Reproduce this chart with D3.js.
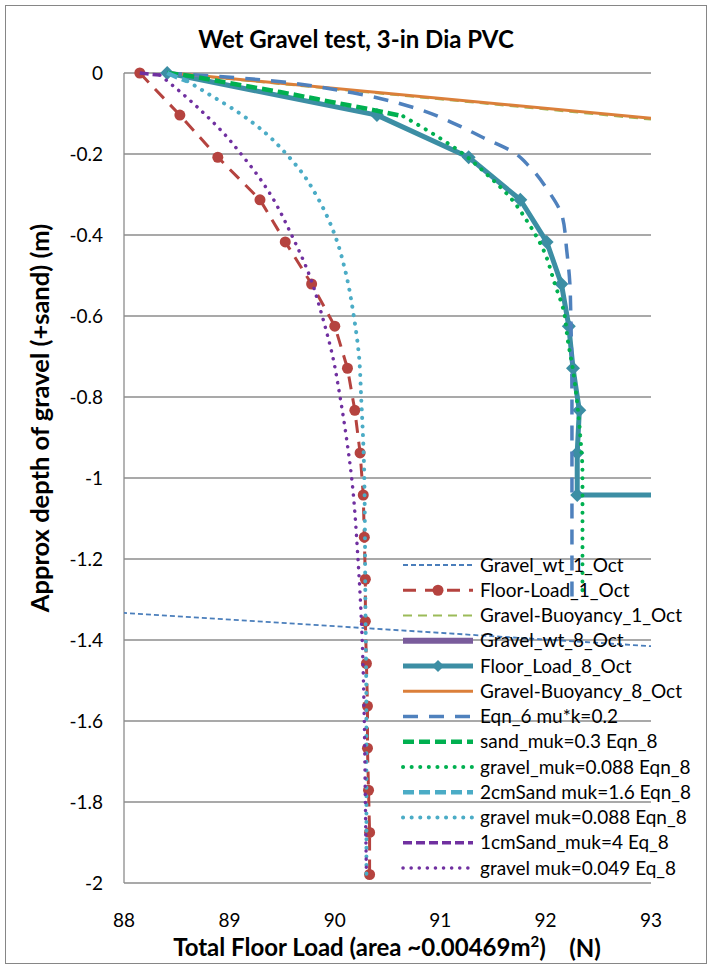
<!DOCTYPE html>
<html>
<head>
<meta charset="utf-8">
<script src="https://cdn.jsdelivr.net/npm/d3@7"></script>
<style>
  body { margin: 0; background: #fff; }
  text { font-family: Lato, "Open Sans", sans-serif; fill: #000; }
</style>
</head>
<body>
<div id="chart-area"></div>
<script>
// Wet gravel test - depth vs floor load

const WIDTH = 712
const HEIGHT = 969
const PLOT = { LEFT: 124, RIGHT: 651, TOP: 73, BOTTOM: 883 }

// tick labels
const xTicks = [88, 89, 90, 91, 92, 93]
const yTicks = [0, -0.2, -0.4, -0.6, -0.8, -1, -1.2, -1.4, -1.6, -1.8, -2]

// measured series (depth in m, load in N)
const depths = [0, -0.104, -0.208, -0.313, -0.417, -0.521, -0.625, -0.729, -0.833, -0.938,
    -1.042, -1.146, -1.25, -1.354, -1.458, -1.563, -1.667, -1.771, -1.875, -1.979]
const floorLoad1 = [88.15, 88.53, 88.89, 89.29, 89.53, 89.78, 90.0, 90.12, 90.19, 90.24,
    90.27, 90.28, 90.29, 90.29, 90.30, 90.31, 90.31, 90.32, 90.33, 90.33]
const floorLoad8 = [88.41, 90.40, 91.27, 91.76, 92.01, 92.15, 92.22, 92.26, 92.32, 92.30, 92.30, 93.0]
const floorDepth8 = [0, -0.104, -0.208, -0.313, -0.417, -0.521, -0.625, -0.729, -0.833, -0.938, -1.042, -1.042]

const gravelWt1 = [[6.7, 0], [100, -1.53]]
const gravelWt8 = []
const buoyancy1 = [[88.40, 0], [93, -0.115]]
const buoyancy8 = [[88.45, 0], [93, -0.112]]

// model curves [load, depth]
const eqn6 = [[88.41, 0], [89.22, -0.015], [90.17, -0.049], [90.73, -0.084], [91.16, -0.128],
    [91.41, -0.16], [91.69, -0.195], [91.85, -0.232], [92.02, -0.289], [92.16, -0.356],
    [92.20, -0.437], [92.23, -0.519], [92.24, -0.61], [92.25, -0.807], [92.25, -1.3]]
const sandMuk03 = [[88.41, 0], [88.56, -0.005], [89.0, -0.025], [89.48, -0.047], [90.02, -0.074],
    [90.36, -0.091], [90.65, -0.107]]
const gravelMuk088 = [[90.65, -0.107], [90.98, -0.158], [91.22, -0.2], [91.45, -0.252], [91.66, -0.306],
    [91.83, -0.368], [91.98, -0.437], [92.09, -0.523], [92.17, -0.585], [92.21, -0.659],
    [92.26, -0.733], [92.30, -0.815], [92.33, -0.899], [92.35, -0.988], [92.35, -1.079], [92.35, -1.281]]
const sand2cm = [[88.41, 0], [88.5, -0.01], [88.6, -0.02]]
const gravelMuk088b = [[88.6, -0.02], [88.79, -0.05], [89.10, -0.1], [89.35, -0.15], [89.54, -0.2],
    [89.70, -0.25], [89.82, -0.3], [89.92, -0.35], [90.0, -0.4], [90.11, -0.5], [90.18, -0.6],
    [90.23, -0.7], [90.25, -0.8], [90.28, -1.0], [90.29, -1.3], [90.30, -1.6], [90.30, -1.979]]
const sand1cm = [[88.15, 0], [88.25, -0.003], [88.34, -0.005]]
const gravelMuk049 = [[88.34, -0.005], [88.55, -0.05], [88.76, -0.1], [88.95, -0.15], [89.11, -0.2],
    [89.26, -0.25], [89.39, -0.3], [89.59, -0.4], [89.76, -0.5], [89.88, -0.6], [89.98, -0.7],
    [90.05, -0.8], [90.11, -0.9], [90.16, -1.0], [90.22, -1.2], [90.26, -1.4], [90.28, -1.6],
    [90.29, -1.8], [90.30, -1.979]]

const series = [
    { name: "Gravel_wt_1_Oct", data: gravelWt1, color: "#4A7EBB", width: 1.8, dash: "5,3" },
    { name: "Floor-Load_1_Oct", data: d3.zip(floorLoad1, depths), color: "#B5433F", width: 3, dash: "13,9", marker: "circle" },
    { name: "Gravel-Buoyancy_1_Oct", data: buoyancy1, color: "#9BBB59", width: 2, dash: "9,6" },
    { name: "Gravel_wt_8_Oct", data: gravelWt8, color: "#7A5C9C", width: 6 },
    { name: "Floor_Load_8_Oct", data: d3.zip(floorLoad8, floorDepth8), color: "#3C8EA4", width: 5, marker: "diamond" },
    { name: "Gravel-Buoyancy_8_Oct", data: buoyancy8, color: "#DB7F3A", width: 3 },
    { name: "Eqn_6 mu*k=0.2", data: eqn6, color: "#4F81BD", width: 3.5, dash: "15,11", curve: true },
    { name: "sand_muk=0.3 Eqn_8", data: sandMuk03, color: "#00B050", width: 4.5, dash: "11,5", curve: true },
    { name: "gravel_muk=0.088 Eqn_8", data: gravelMuk088, color: "#00B050", width: 4, dash: "0.1,8.5", round: true, curve: true },
    { name: "2cmSand muk=1.6 Eqn_8", data: sand2cm, color: "#4BACC6", width: 4.5, dash: "11,5", curve: true },
    { name: "gravel muk=0.088 Eqn_8", data: gravelMuk088b, color: "#4BACC6", width: 4, dash: "0.1,8.5", round: true, curve: true },
    { name: "1cmSand_muk=4 Eq_8", data: sand1cm, color: "#7030A0", width: 3.5, dash: "9,4", curve: true },
    { name: "gravel muk=0.049 Eq_8", data: gravelMuk049, color: "#7030A0", width: 3.5, dash: "0.1,8", round: true, curve: true }
]

const svg = d3.select("#chart-area").append("svg")
    .attr("width", WIDTH)
    .attr("height", HEIGHT)

// chart border
svg.append("rect")
    .attr("x", 5.5).attr("y", 5.5)
    .attr("width", 701).attr("height", 958)
    .attr("fill", "#fff")
    .attr("stroke", "#868686")
    .attr("stroke-width", 1)

const x = d3.scaleLinear().domain([88, 93]).range([PLOT.LEFT, PLOT.RIGHT])
const y = d3.scaleLinear().domain([0, -2]).range([PLOT.TOP, PLOT.BOTTOM])

// gridlines
svg.append("g")
    .selectAll("line")
    .data(yTicks)
    .enter().append("line")
    .attr("x1", PLOT.LEFT).attr("x2", PLOT.RIGHT)
    .attr("y1", d => y(d)).attr("y2", d => y(d))
    .attr("stroke", "#8c8c8c")
    .attr("stroke-width", 1.3)

svg.append("line")
    .attr("x1", PLOT.LEFT).attr("x2", PLOT.LEFT)
    .attr("y1", PLOT.TOP).attr("y2", PLOT.BOTTOM)
    .attr("stroke", "#8c8c8c")
    .attr("stroke-width", 1.3)

// tick labels
svg.append("g").selectAll("text")
    .data(yTicks)
    .enter().append("text")
    .attr("x", 103)
    .attr("y", d => y(d))
    .attr("dy", "0.35em")
    .attr("text-anchor", "end")
    .attr("font-size", "19px")
    .text(d => d3.format("")(d).replace("−", "-"))

svg.append("g").selectAll("text")
    .data(xTicks)
    .enter().append("text")
    .attr("x", d => x(d))
    .attr("y", 920)
    .attr("dy", "0.35em")
    .attr("text-anchor", "middle")
    .attr("font-size", "19px")
    .text(d => d)

// titles
svg.append("text")
    .attr("x", 356).attr("y", 40)
    .attr("dy", "0.35em")
    .attr("text-anchor", "middle")
    .attr("font-size", "24px")
    .attr("font-weight", "bold")
    .text("Wet Gravel test, 3-in Dia PVC")

const xTitle = svg.append("text")
    .attr("x", 387).attr("y", 948)
    .attr("dy", "0.35em")
    .attr("text-anchor", "middle")
    .attr("font-size", "24px")
    .attr("font-weight", "bold")
xTitle.append("tspan").text("Total Floor Load (area ~0.00469m")
xTitle.append("tspan").attr("font-size", "15px").attr("dy", "-0.6em").text("2")
xTitle.append("tspan").attr("dy", "0.4em").attr("xml:space", "preserve").text(")    (N)")

svg.append("text")
    .attr("transform", `translate(40, 418) rotate(-90)`)
    .attr("dy", "0.35em")
    .attr("text-anchor", "middle")
    .attr("font-size", "25.5px")
    .attr("font-weight", "bold")
    .text("Approx depth of gravel (+sand) (m)")

// series
svg.append("clipPath").attr("id", "plot-clip")
    .append("rect")
    .attr("x", PLOT.LEFT).attr("y", PLOT.TOP - 12)
    .attr("width", PLOT.RIGHT - PLOT.LEFT).attr("height", PLOT.BOTTOM - PLOT.TOP + 20)

const plot = svg.append("g").attr("clip-path", "url(#plot-clip)")

const straight = d3.line().x(d => x(d[0])).y(d => y(d[1]))
const smooth = d3.line().x(d => x(d[0])).y(d => y(d[1])).curve(d3.curveMonotoneY)

const diamond = s => `M0,${-s}L${s},0L0,${s}L${-s},0Z`

series.forEach(s => {
    if (!s.data.length) return
    plot.append("path")
        .attr("d", (s.curve ? smooth : straight)(s.data))
        .attr("fill", "none")
        .attr("stroke", s.color)
        .attr("stroke-width", s.width)
        .attr("stroke-dasharray", s.dash || null)
        .attr("stroke-linecap", s.round ? "round" : "butt")
        .attr("stroke-linejoin", "round")

    if (s.marker === "circle") {
        plot.append("g").selectAll("circle")
            .data(s.data)
            .enter().append("circle")
            .attr("cx", d => x(d[0])).attr("cy", d => y(d[1]))
            .attr("r", 5.5)
            .attr("fill", s.color)
    }
    if (s.marker === "diamond") {
        plot.append("g").selectAll("path")
            .data(s.data.slice(0, -1))
            .enter().append("path")
            .attr("transform", d => `translate(${x(d[0])}, ${y(d[1])})`)
            .attr("d", diamond(7))
            .attr("fill", s.color)
    }
})

// legend
const legend = svg.append("g").attr("class", "legend")

series.forEach((s, i) => {
    const row = legend.append("g")
        .attr("transform", `translate(403, ${565 + i * 25.25})`)

    row.append("line")
        .attr("x1", 0).attr("x2", 70)
        .attr("stroke", s.color)
        .attr("stroke-width", s.width)
        .attr("stroke-dasharray", s.dash || null)
        .attr("stroke-linecap", s.round ? "round" : "butt")

    if (s.marker === "circle") {
        row.append("circle").attr("cx", 35).attr("r", 5.5).attr("fill", s.color)
    }
    if (s.marker === "diamond") {
        row.append("path").attr("transform", "translate(35,0)").attr("d", diamond(6)).attr("fill", s.color)
    }

    row.append("text")
        .attr("x", 77)
        .attr("dy", "0.35em")
        .attr("font-size", "19px")
        .text(s.name)
})
</script>
</body>
</html>
